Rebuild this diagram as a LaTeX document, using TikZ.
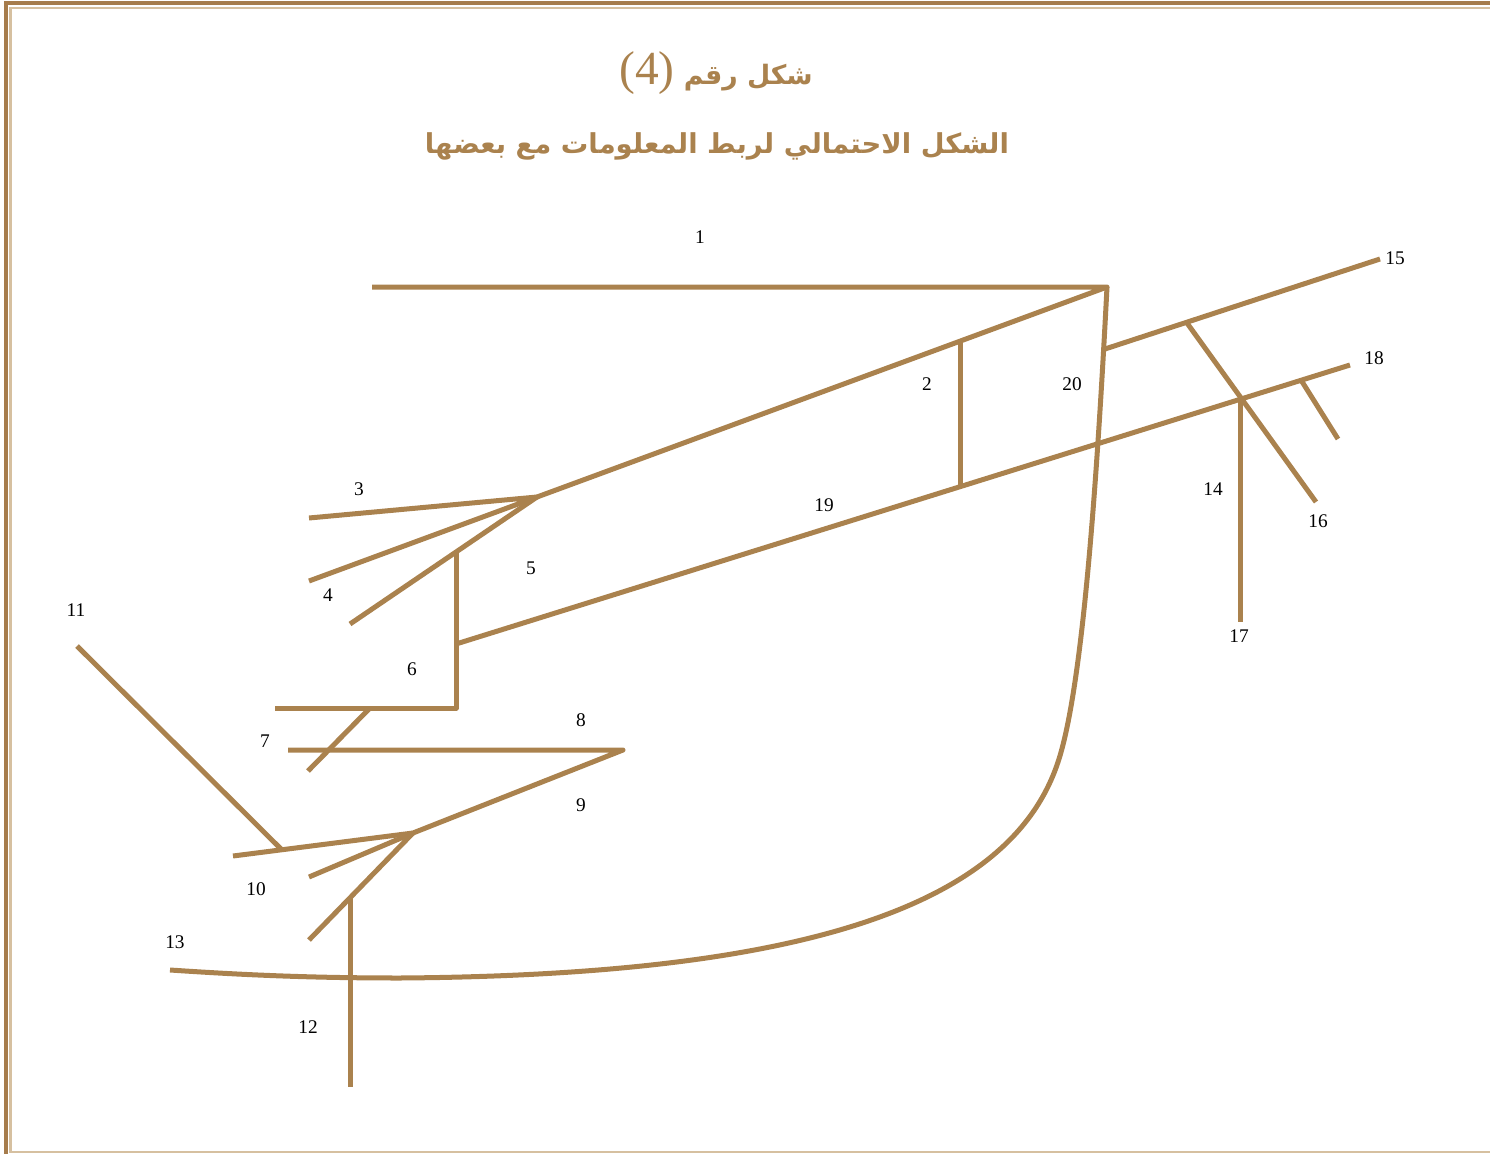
\documentclass[tikz,border=0pt]{standalone}
\usepackage{fontspec}
\setmainfont{Liberation Serif}
\newfontfamily\arabicfont[Script=Arabic]{DejaVu Sans}
\TeXXeTstate=1
\definecolor{figbrown}{RGB}{170,130,78}
\definecolor{framebrown}{RGB}{166,124,76}
\definecolor{framelight}{RGB}{214,192,160}
\tikzset{
    branch/.style={draw=figbrown,line width=0.05cm,line join=round},
    numlabel/.style={font=\fontsize{5.5}{6}\selectfont,text=black,inner sep=0pt},
    figtitle/.style={font=\fontsize{7.6}{12}\arabicfont\bfseries,text=figbrown,inner sep=0pt},
    figsubtitle/.style={font=\fontsize{7.8}{12}\arabicfont\bfseries,text=figbrown,inner sep=0pt},
    outerframe/.style={draw=framebrown,line width=0.035cm},
    innerframe/.style={draw=framelight,line width=0.02cm}
}

\begin{document}
\begin{tikzpicture}[x=0.01cm,y=-0.01cm]
    \useasboundingbox (0,0) rectangle (1490,1154);
    % frame
    \draw[outerframe] (1490,3) -- (6,3) -- (6,1154);
    \draw[innerframe] (1490,8) -- (10.5,8) -- (10.5,1152) -- (1490,1152);
    % titles
    \node[figtitle] (title) at (716,73) {{\rmfamily\mdseries\fontsize{13.5}{14}\selectfont(4)}\ \beginR شكل رقم\endR};
    \node[figsubtitle] (subtitle) at (717,146) {\beginR الشكل الاحتمالي لربط المعلومات مع بعضها\endR};
    % points
    \coordinate (apex) at (1107,287);
    \coordinate (top1) at (372,287);
    \coordinate (hub3) at (537,497);
    \coordinate (foot2) at (960,342);
    \coordinate (base2) at (960,487);
    \coordinate (start19) at (456,644);
    \coordinate (end19) at (1350,365);
    \coordinate (cross14) at (1240,399);
    \coordinate (root15) at (1105,349);
    \coordinate (end15) at (1380,259);
    \coordinate (fork16) at (1187,323);
    \coordinate (end16) at (1316,502);
    \coordinate (end17) at (1240,622);
    \coordinate (fork18) at (1301,380);
    \coordinate (end18) at (1338,439);
    \coordinate (end3) at (309,518);
    \coordinate (end4) at (309,581);
    \coordinate (end5) at (350,624);
    \coordinate (fork5) at (456,553);
    \coordinate (corner6) at (456,708);
    \coordinate (end6) at (275,708);
    \coordinate (fork7) at (370,708);
    \coordinate (end7) at (308,771);
    \coordinate (end8) at (288,750);
    \coordinate (tip8) at (623,750);
    \coordinate (hub10) at (413,833);
    \coordinate (end10) at (233,856);
    \coordinate (fork11) at (281,849);
    \coordinate (end11) at (77,646);
    \coordinate (stub10) at (309,877);
    \coordinate (end12a) at (309,940);
    \coordinate (fork12) at (350,898);
    \coordinate (end12) at (350,1087);
    \coordinate (bend20) at (1057,765);
    \coordinate (low20) at (400,978);
    \coordinate (end13) at (170,970);
    % branches
    \draw[branch] (top1) -- (apex) -- (hub3);
    \draw[branch] (foot2) -- (base2);
    \draw[branch] (start19) -- (end19);
    \draw[branch] (root15) -- (end15);
    \draw[branch] (fork16) -- (end16);
    \draw[branch] (cross14) -- (end17);
    \draw[branch] (fork18) -- (end18);
    \draw[branch] (end3) -- (hub3) -- (end4);
    \draw[branch] (hub3) -- (end5);
    \draw[branch] (fork5) -- (corner6) -- (end6);
    \draw[branch] (fork7) -- (end7);
    \draw[branch] (end8) -- (tip8) -- (hub10) -- (end10);
    \draw[branch] (fork11) -- (end11);
    \draw[branch] (hub10) -- (stub10);
    \draw[branch] (hub10) -- (end12a);
    \draw[branch] (fork12) -- (end12);
    \draw[branch] (apex) .. controls (1095,520) and (1080,700) .. (bend20)
        .. controls (1010,900) and (820,975) .. (low20)
        .. controls (300,978) and (230,974) .. (end13);
    % labels
    \node[numlabel] (lab1) at (700,237) {1};
    \node[numlabel] (lab2) at (927,384) {2};
    \node[numlabel] (lab3) at (359,489) {3};
    \node[numlabel] (lab4) at (328,595) {4};
    \node[numlabel] (lab5) at (531,568) {5};
    \node[numlabel] (lab6) at (412,669) {6};
    \node[numlabel] (lab7) at (265,741) {7};
    \node[numlabel] (lab8) at (581,720) {8};
    \node[numlabel] (lab9) at (581,805) {9};
    \node[numlabel] (lab10) at (256,889) {10};
    \node[numlabel] (lab11) at (76,610) {11};
    \node[numlabel] (lab12) at (308,1027) {12};
    \node[numlabel] (lab13) at (175,942) {13};
    \node[numlabel] (lab14) at (1213,489) {14};
    \node[numlabel] (lab15) at (1395,258) {15};
    \node[numlabel] (lab16) at (1318,521) {16};
    \node[numlabel] (lab17) at (1239,636) {17};
    \node[numlabel] (lab18) at (1374,358) {18};
    \node[numlabel] (lab19) at (824,505) {19};
    \node[numlabel] (lab20) at (1072,384) {20};
\end{tikzpicture}
\end{document}
